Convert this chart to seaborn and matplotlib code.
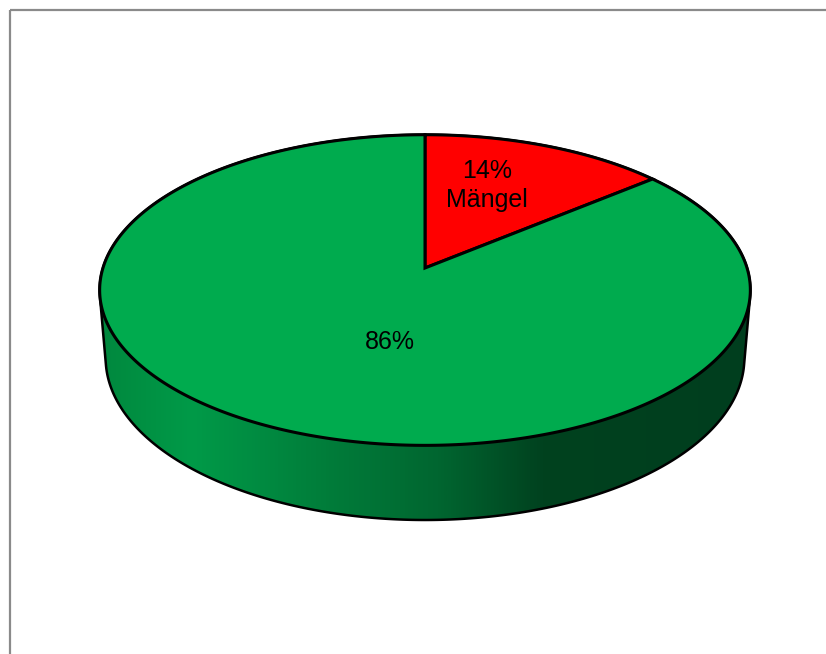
import numpy as np
import matplotlib
matplotlib.use("Agg")
import matplotlib.pyplot as plt
import seaborn as sns
from matplotlib.patches import Polygon, Rectangle
from matplotlib.colors import LinearSegmentedColormap

# ---- data ----
labels = ["Mängel", ""]
values = [14, 86]
colors = ["#FF0000", "#00AB4E"]
label_texts = ["14%\nMängel", "86%"]

sns.set_theme(style="white")
plt.rcParams['font.family'] = ['Liberation Sans', 'DejaVu Sans']

W, H = 826, 654
fig = plt.figure(figsize=(W / 100, H / 100), dpi=100)
ax = fig.add_axes([0, 0, 1, 1])
ax.set_xlim(0, W)
ax.set_ylim(H, 0)
ax.axis("off")

# chart frame
ax.add_patch(Rectangle((10, 10), W + 20, H + 20, fill=False, edgecolor="#8a8a8a", lw=1.6, zorder=1))

# perspective camera
phi = np.deg2rad(28.2)
D, f = 6.21, 2000.0
cx, cy = 425.0, 268.0
h = 0.242


def proj(X, Y, Z):
    X, Y, Z = np.asarray(X, float), np.asarray(Y, float), np.asarray(Z, float)
    depth = D + Y * np.cos(phi) - Z * np.sin(phi)
    sx = cx + f * X / depth
    sy = cy - f * (Y * np.sin(phi) + Z * np.cos(phi)) / depth
    return sx, sy


th = np.linspace(0, 2 * np.pi, 721)
tx, ty = proj(np.cos(th), np.sin(th), 0 * th)
bx, by = proj(np.cos(th), np.sin(th), 0 * th - h)


def hull(points):
    pts = sorted(set(map(tuple, np.round(points, 4))))
    def cross(o, a, b):
        return (a[0] - o[0]) * (b[1] - o[1]) - (a[1] - o[1]) * (b[0] - o[0])
    lower, upper = [], []
    for p in pts:
        while len(lower) >= 2 and cross(lower[-2], lower[-1], p) <= 0:
            lower.pop()
        lower.append(p)
    for p in reversed(pts):
        while len(upper) >= 2 and cross(upper[-2], upper[-1], p) <= 0:
            upper.pop()
        upper.append(p)
    return np.array(lower[:-1] + upper[:-1])


allpts = np.vstack([np.column_stack([tx, ty]), np.column_stack([bx, by])])
hp = hull(allpts)

# side wall with horizontal shading
cmap = LinearSegmentedColormap.from_list("side", [
    (0.0, "#00883e"), (0.14, "#009a48"), (0.33, "#007f3b"),
    (0.52, "#006630"), (0.68, "#00421f"), (1.0, "#003e1e")])
x0, x1 = hp[:, 0].min(), hp[:, 0].max()
y0, y1 = hp[:, 1].min(), hp[:, 1].max()
grad = np.linspace(0, 1, 512)[None, :]
im = ax.imshow(grad, cmap=cmap, extent=[x0, x1, y1, y0], aspect="auto", zorder=2)
side = Polygon(hp, closed=True, facecolor="none", edgecolor="black", lw=1.8, zorder=3)
ax.add_patch(side)
im.set_clip_path(side)

# top face wedges (start at 12 o'clock, clockwise)
fracs = np.array(values, float) / np.sum(values)
start = np.pi / 2
ox, oy = proj(0, 0, 0)
mids = []
for frac, col in zip(fracs, colors):
    end = start - frac * 2 * np.pi
    a = np.linspace(start, end, 400)
    ax_, ay_ = proj(np.cos(a), np.sin(a), 0 * a)
    poly = np.vstack([[ox, oy], np.column_stack([ax_, ay_])])
    ax.add_patch(Polygon(poly, closed=True, facecolor=col, edgecolor="black",
                         lw=2.2, joinstyle="miter", zorder=4))
    mids.append((start + end) / 2)
    start = end

# labels
label_r = [0.65, 0.5]
label_shift = [(-20, 0), (38, 0)]
for txt, m, r, sh in zip(label_texts, mids, label_r, label_shift):
    lx, ly = proj(r * np.cos(m), r * np.sin(m), 0)
    ax.text(lx + sh[0], ly + sh[1], txt, ha="center", va="center",
            fontsize=18, color="black", linespacing=1.3, zorder=5)

fig.savefig("out.png", dpi=100)
